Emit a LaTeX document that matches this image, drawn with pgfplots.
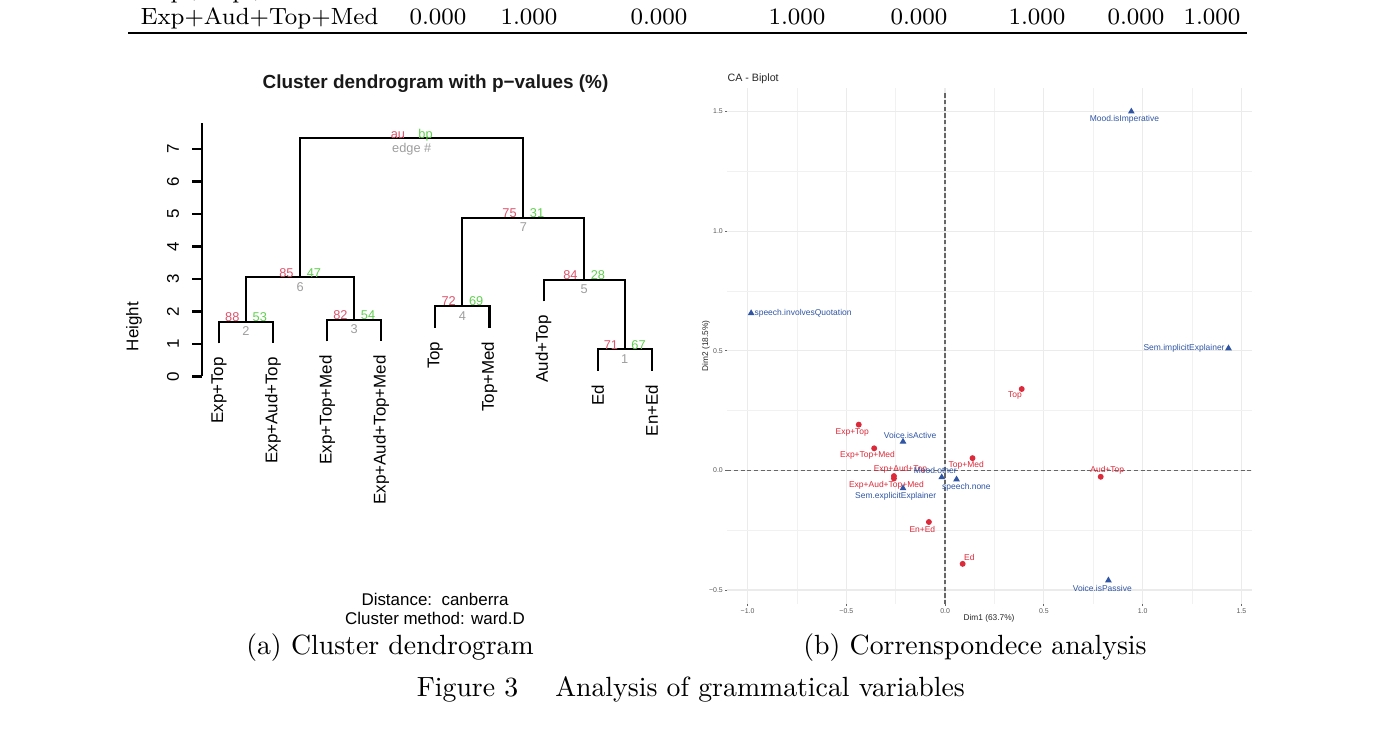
\documentclass[border=0pt]{standalone}
\usepackage{fontspec}
\setsansfont{Liberation Sans}
\usepackage{pgfplots}
\usepackage{pgfplotstable}
\pgfplotsset{compat=1.18}
\definecolor{aucol}{HTML}{DF536B}
\definecolor{bpcol}{HTML}{61D04F}
\definecolor{edgecol}{HTML}{9E9E9E}
\definecolor{rowred}{HTML}{DC2A3A}
\definecolor{colblue}{HTML}{2F55A4}
\definecolor{gridc}{HTML}{EBEBEB}
\newcommand\fs[1]{\fontsize{#1}{#1}\selectfont}

% CA biplot: row points (clusters)
\pgfplotstableread{
x y
-0.437 0.191
-0.259 -0.024
-0.359 0.092
-0.259 -0.034
0.388 0.340
0.139 0.051
0.788 -0.027
0.089 -0.391
-0.082 -0.216
}\rowpts
\pgfplotstableread{
x y label
-0.470 0.159 Exp+Top
-0.226 0.004 Exp+Aud+Top
-0.393 0.063 Exp+Top+Med
-0.297 -0.063 Exp+Aud+Top+Med
0.354 0.311 Top
0.107 0.022 Top+Med
0.821 0.000 Aud+Top
0.123 -0.366 Ed
-0.115 -0.246 En+Ed
}\rowlab
% CA biplot: column points (variables)
\pgfplotstableread{
x y
0.943 1.500
-0.982 0.657
1.435 0.510
-0.213 0.120
-0.017 -0.029
0.058 -0.038
-0.213 -0.075
0.827 -0.460
}\colpts
\pgfplotstableread{
x y label
0.908 1.469 Mood.isImperative
-0.719 0.657 speech.involvesQuotation
1.210 0.510 Sem.implicitExplainer
-0.177 0.145 Voice.isActive
-0.050 -0.002 Mood.other
0.108 -0.071 speech.none
-0.250 -0.110 Sem.explicitExplainer
0.796 -0.494 Voice.isPassive
}\collab

\newcommand\pv[5]{%
  \node[anchor=base east, inner sep=0pt, xshift=-2.2pt, text=aucol, font=\sffamily\fs{4.6}] at (axis cs:#1,#2) {#3};
  \node[anchor=base west, inner sep=0pt, xshift=2.2pt, text=bpcol, font=\sffamily\fs{4.6}] at (axis cs:#1,#2) {#4};
  \node[anchor=north, inner sep=0pt, yshift=-1.7pt, text=edgecol, font=\sffamily\fs{4.6}] at (axis cs:#1,#2) {#5};
}
\newcommand\leaf[3]{%
  \node[rotate=90, anchor=east, inner sep=0pt, font=\sffamily\fs{6.1}] at (axis cs:#1,#2) {#3};
}

\begin{document}
\begin{tikzpicture}[x=0.36pt,y=0.36pt]
\path[use as bounding box] (0,0) rectangle (1380,750);

% --- table row above ---
\begin{scope}[every node/.style={anchor=base west, inner sep=0pt, font=\fontsize{8.45}{10}\selectfont}]
\node at (140,751) {Exp+Top+Med};
\node at (140,725) {Exp+Aud+Top+Med};
\node at (409,725) {0.000};
\node at (500,725) {1.000};
\node at (630,725) {0.000};
\node at (768,725) {1.000};
\node at (890,725) {0.000};
\node at (1008,725) {1.000};
\node at (1107,725) {0.000};
\node at (1183,725) {1.000};
\end{scope}
\draw[line width=0.6pt] (128,717) -- (1247,717);

% --- (a) dendrogram ---
\node[anchor=base, inner sep=0pt, font=\sffamily\bfseries\fs{6.82}, text=black!90] at (435.5,661.7) {Cluster dendrogram with p−values (\%)};
\node[rotate=90, inner sep=0pt, font=\sffamily\fs{6.1}] at (134,423.3) {Height};
\node[inner sep=0pt, font=\sffamily\fs{6.1}] at (435,151) {Distance:\hspace{3.4pt}canberra};
\node[inner sep=0pt, font=\sffamily\fs{6.1}] at (435,132) {Cluster method: ward.D};

\begin{axis}[
  at={(72.72pt,134.46pt)}, anchor=south west,
  x=19.476pt, y=11.7pt,
  xmin=0.686, xmax=9.4, ymin=0, ymax=7.8,
  enlargelimits=false,
  axis x line=none, axis y line=left,
  axis line style={-, line width=0.75pt, black},
  ytick={0,1,2,3,4,5,6,7}, yticklabels={0,1,2,3,4,5,6,7},
  tick align=outside, major tick length=3.6pt,
  ytick style={line width=0.75pt, black},
  yticklabel style={rotate=90, anchor=south, inner sep=0pt, font=\sffamily\fs{6.1}},
  yticklabel shift=4.5pt,
  clip=false,
]
\addplot[black, line width=0.75pt] coordinates {(1,1.02)(1,1.69)(2,1.69)(2,1.02)};
\addplot[black, line width=0.75pt] coordinates {(3,1.08)(3,1.75)(4,1.75)(4,1.08)};
\addplot[black, line width=0.75pt] coordinates {(1.5,1.69)(1.5,3.06)(3.5,3.06)(3.5,1.75)};
\addplot[black, line width=0.75pt] coordinates {(5,1.50)(5,2.17)(6,2.17)(6,1.50)};
\addplot[black, line width=0.75pt] coordinates {(8,0.17)(8,0.84)(9,0.84)(9,0.17)};
\addplot[black, line width=0.75pt] coordinates {(7,2.31)(7,2.98)(8.5,2.98)(8.5,0.84)};
\addplot[black, line width=0.75pt] coordinates {(5.5,2.17)(5.5,4.88)(7.75,4.88)(7.75,2.98)};
\addplot[black, line width=0.75pt] coordinates {(2.5,3.06)(2.5,7.33)(6.625,7.33)(6.625,4.88)};
\pv{1.5}{1.69}{88}{53}{2}
\pv{3.5}{1.75}{82}{54}{3}
\pv{2.5}{3.06}{85}{47}{6}
\pv{5.5}{2.17}{72}{69}{4}
\pv{8.5}{0.84}{71}{67}{1}
\pv{7.75}{2.98}{84}{28}{5}
\pv{6.625}{4.88}{75}{31}{7}
\pv{4.5625}{7.33}{au}{bp}{edge \#}
\leaf{1}{0.61}{Exp+Top}
\leaf{2}{0.61}{Exp+Aud+Top}
\leaf{3}{0.67}{Exp+Top+Med}
\leaf{4}{0.67}{Exp+Aud+Top+Med}
\leaf{5}{1.09}{Top}
\leaf{6}{1.09}{Top+Med}
\leaf{7}{1.90}{Aud+Top}
\leaf{8}{-0.24}{Ed}
\leaf{9}{-0.24}{En+Ed}
\end{axis}

% --- (b) CA biplot ---
\node[anchor=west, inner sep=0pt, font=\sffamily\fs{3.85}, text=black!85] at (727,671) {CA - Biplot};
\node[inner sep=0pt, font=\sffamily\fs{3}, text=black!85] at (989,132) {Dim1 (63.7\%)};
\node[rotate=90, inner sep=0pt, font=\sffamily\fs{3}, text=black!85] at (706,404) {Dim2 (18.5\%)};

\begin{axis}[
  at={(261.8pt,52.63pt)}, anchor=south west,
  x=71.1pt, y=86.11pt,
  xmin=-1.103, xmax=1.556, ymin=-0.558, ymax=1.598,
  enlargelimits=false,
  axis line style={draw=none},
  xtick={-1,-0.5,0,0.5,1,1.5}, xticklabels={−1.0,−0.5,0.0,0.5,1.0,1.5},
  ytick={-0.5,0,0.5,1,1.5}, yticklabels={−0.5,0.0,0.5,1.0,1.5},
  minor xtick={-0.75,-0.25,0.25,0.75,1.25},
  minor ytick={-0.25,0.25,0.75,1.25},
  xtick pos=bottom, ytick pos=left,
  grid=both,
  major grid style={gridc, line width=0.45pt},
  minor grid style={gridc!70!white, line width=0.25pt},
  tick align=outside, major tick length=0.8pt, minor tick length=0pt,
  tick style={black!60, line width=0.3pt},
  ticklabel style={font=\sffamily\fs{2.5}, text=black!65, inner sep=0.6pt},
  clip=false,
]
\addplot[black!60, line width=0.55pt, dash pattern=on 1.5pt off 0.9pt] coordinates {(0,-0.56)(0,1.585)};
\addplot[black!60, line width=0.55pt, dash pattern=on 1.5pt off 0.9pt] coordinates {(-1.103,0)(1.556,0)};
\addplot[only marks, mark=*, mark size=0.85pt, color=rowred] table[x=x,y=y] {\rowpts};
\addplot[only marks, mark=triangle*, mark size=1.0pt, color=colblue] table[x=x,y=y] {\colpts};
\addplot[draw=none, mark=none, nodes near coords, point meta=explicit symbolic,
  every node near coord/.append style={anchor=center, inner sep=0pt, font=\sffamily\fs{3.05}, text=rowred}]
  table[x=x,y=y,meta=label] {\rowlab};
\addplot[draw=none, mark=none, nodes near coords, point meta=explicit symbolic,
  every node near coord/.append style={anchor=center, inner sep=0pt, font=\sffamily\fs{3.05}, text=colblue}]
  table[x=x,y=y,meta=label] {\collab};
\end{axis}

% --- captions ---
\node[anchor=base, inner sep=0pt, font=\fs{10}] at (390,95) {(a) Cluster dendrogram};
\node[anchor=base, inner sep=0pt, font=\fs{10}] at (975,95) {(b) Correnspondece analysis};
\node[anchor=base, inner sep=0pt, font=\fs{10}] at (690.8,54) {Figure 3\hspace*{13.3pt}Analysis of grammatical variables};
\end{tikzpicture}
\end{document}
